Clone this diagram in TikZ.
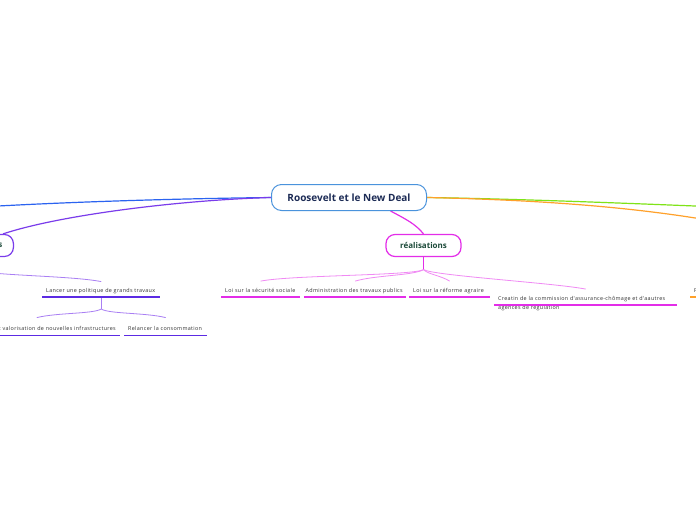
\documentclass[tikz,border=0pt]{standalone}
\usepackage{fontspec}
\setmainfont{Open Sans}
\newfontfamily\leaffont[LetterSpace=6,WordSpace=0.75]{Open Sans}
\usetikzlibrary{backgrounds,calc}
\definecolor{cblue}{HTML}{2B63F0}
\definecolor{cpurp}{HTML}{7A3CEB}
\definecolor{cpurpl}{HTML}{A97FF3}
\definecolor{cpurpu}{HTML}{5C2BE3}
\definecolor{cmag}{HTML}{E32DE8}
\definecolor{cmagl}{HTML}{F08AF4}
\definecolor{cgreen}{HTML}{7FE317}
\definecolor{corange}{HTML}{FFA12B}
\definecolor{rootb}{HTML}{4A93DC}
\definecolor{navy}{HTML}{1C2B55}
\definecolor{dgreen}{HTML}{1D4B3A}
\definecolor{leaftext}{HTML}{333333}
\hyphenpenalty=10000
\exhyphenpenalty=10000
\begin{document}
\begin{tikzpicture}[x=1pt,y=-1pt,
 rootnode/.style={draw=rootb, line width=1pt, fill=white, rounded corners=10pt, minimum width=155pt, minimum height=26pt, font=\fontsize{10}{12}\selectfont\bfseries, text=navy},
 mainnode/.style={draw=#1, line width=1.2pt, fill=white, rounded corners=9pt, minimum height=22pt, font=\fontsize{8}{10}\selectfont\bfseries, text=dgreen},
 leaf/.style={font=\leaffont\fontsize{5.4}{9}\selectfont, text=leaftext, inner xsep=4pt, inner ysep=2pt, text height=4.5pt, text depth=2.5pt, align=left, anchor=south west},
 ul/.style={line width=1.6pt, draw=#1},
 conn/.style={line width=1.2pt, draw=#1},
 sub/.style={line width=0.8pt, draw=#1}]
\useasboundingbox (0,0) rectangle (696,520);
% main nodes
\node[rootnode] (root) at (349,197.5) {Roosevelt et le New Deal};
\node[mainnode=cpurp, text width=60pt, align=right, inner xsep=11pt, anchor=east] (obj) at (14,245.5) {s};
\node[mainnode=cmag, minimum width=75pt] (real) at (423.5,245.5) {réalisations};
% leaves
\node[leaf, text width=71pt] (c1) at (221,297) {Loi sur la sécurité sociale};
\node[leaf, text width=99pt, inner xsep=1.5pt] (c2) at (304,297) {Administration des travaux publics};
\node[leaf, text width=73pt] (c3) at (409,297) {Loi sur la réforme agraire};
\node[leaf, text width=175pt] (c4) at (494,305) {Creatin de la commission d'assurance-chômage et d'aautres\\agences de regulation};
\node[leaf, text width=110pt] (lancer) at (42,297) {Lancer une politique de grands travaux};
\node[leaf, text width=158pt, align=right, anchor=south east] (tval) at (120,335.5) {t valorisation de nouvelles infrastructures};
\node[leaf, text width=75pt] (relancer) at (124,335.5) {Relancer la consommation};
\node[leaf, text width=60pt] (fnode) at (690,297) {F};
% underlines
\draw[ul=cmag] (c1.south west) -- (c1.south east);
\draw[ul=cmag] (c2.south west) -- (c2.south east);
\draw[ul=cmag] (c3.south west) -- (c3.south east);
\draw[ul=cmag] (c4.south west) -- (c4.south east);
\draw[ul=cpurpu] (lancer.south west) -- (lancer.south east);
\draw[ul=cpurpu] (tval.south west) -- (tval.south east);
\draw[ul=cpurpu] (relancer.south west) -- (relancer.south east);
\draw[ul=corange] (fnode.south west) -- (fnode.south east);
% coordinates
\coordinate (blueend) at (-20,207);
\coordinate (greenend) at (720,207);
\coordinate (orangeend) at (730,224);
\coordinate (rj) at ([yshift=-12.5pt]real.south);
\coordinate (oj) at ([yshift=-12.5pt]obj.south);
\coordinate (lj) at ([yshift=-12pt]lancer.south);
\begin{scope}[on background layer]
\fill[white] (0,0) rectangle (696,520);
\draw[conn=cblue] (root.west) .. controls (150,199) and (50,203) .. (blueend);
\draw[conn=cpurp] (root.west) .. controls (180,200) and (60,215) .. ([xshift=-11pt]obj.north east);
\draw[conn=cgreen] (root.east) .. controls (520,199) and (620,203) .. (greenend);
\draw[conn=corange] (root.east) .. controls (540,200) and (640,207) .. (orangeend);
\draw[conn=cmag] (root.-18) .. controls +(15,8) and +(-8,-10) .. (real.north);
% realisations branch
\draw[conn=cmag] (real.south) -- (rj);
\draw[sub=cmagl] (rj) .. controls +(-10,6) and +(30,-6) .. ([yshift=4.5pt]c1.north);
\draw[sub=cmagl] (rj) .. controls +(-10,6) and +(20,-6) .. ([yshift=4.5pt]c2.north);
\draw[sub=cmagl] (rj) .. controls +(5,5) and +(-10,-6) .. ([yshift=4.5pt]c3.north);
\draw[sub=cmagl] (rj) .. controls +(10,6) and +(-30,-6) .. ([yshift=4.5pt]c4.north);
% left branch
\draw[conn=cpurp] (obj.south) -- (oj);
\draw[sub=cpurpl] (oj) .. controls +(15,6) and +(-30,-6) .. ([yshift=4pt]lancer.north);
\draw[conn=cpurpl] (lancer.south) -- (lj);
\draw[sub=cpurpl] (lj) .. controls +(-8,5) and +(20,-5) .. ([yshift=6.5pt]tval.north);
\draw[sub=cpurpl] (lj) .. controls +(8,5) and +(-20,-5) .. ([yshift=6.5pt]relancer.north);
\end{scope}
\end{tikzpicture}
\end{document}
